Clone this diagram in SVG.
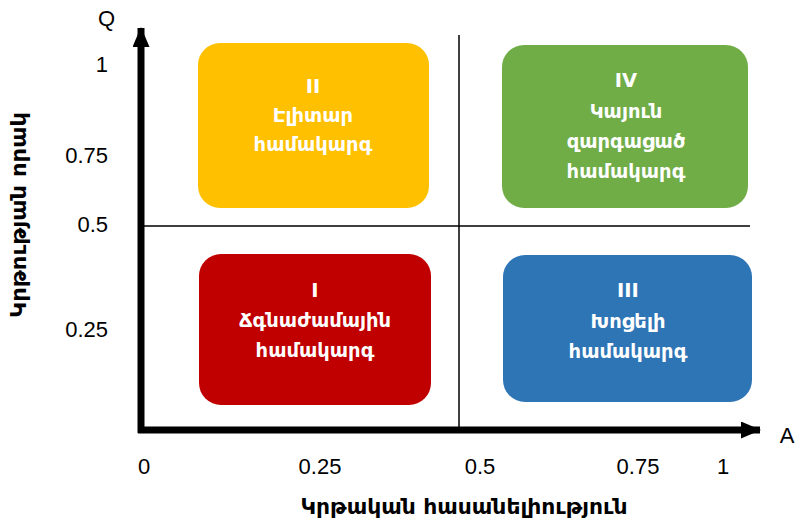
<svg xmlns="http://www.w3.org/2000/svg" width="799" height="521" viewBox="0 0 799 521">
<style>
.box text{font-family:"DejaVu Sans","Noto Sans",sans-serif;font-weight:bold;font-size:19.5px;fill:#fff;text-anchor:middle}
.tick{font-family:"Liberation Sans",Arial,sans-serif;font-size:22px;fill:#000}
.title{font-family:"DejaVu Sans","Noto Sans",sans-serif;font-weight:bold;font-size:22px;fill:#000;text-anchor:middle}
</style>
<defs>
<marker id="ah" viewBox="0 0 20 17" refX="19" refY="8.5" markerWidth="20" markerHeight="17" orient="auto" markerUnits="userSpaceOnUse">
<path d="M0,0 L20,8.5 L0,17 z" fill="#000"/>
</marker>
</defs>
<rect width="799" height="521" fill="#fff"/>
<g id="node-II" class="box">
<rect x="198" y="43" width="231" height="165" rx="22" fill="#FFC000"/>
<text x="313" y="93">II</text>
<text x="313" y="122">Էլիտար</text>
<text x="313" y="151">համակարգ</text>
</g>
<g id="node-IV" class="box">
<rect x="502" y="45" width="246" height="163" rx="22" fill="#70AD47"/>
<text x="626" y="87">IV</text>
<text x="626" y="118">Կայուն</text>
<text x="626" y="148">զարգացած</text>
<text x="626" y="178">համակարգ</text>
</g>
<g id="node-I" class="box">
<rect x="199" y="254" width="232" height="151" rx="22" fill="#C00000"/>
<text x="315" y="297">I</text>
<text x="315" y="327">Ճգնաժամային</text>
<text x="315" y="357">համակարգ</text>
</g>
<g id="node-III" class="box">
<rect x="503" y="255" width="249" height="147" rx="22" fill="#2E75B6"/>
<text x="628" y="297">III</text>
<text x="628" y="328">Խոցելի</text>
<text x="628" y="358">համակարգ</text>
</g>
<g id="connectors" fill="none" stroke="#000">
<line x1="459" y1="35" x2="459" y2="430" stroke-width="1.5"/>
<line x1="143" y1="226" x2="750" y2="226" stroke-width="1.5"/>
<line x1="141" y1="433" x2="141" y2="28" stroke-width="7" marker-end="url(#ah)"/>
<line x1="138" y1="430" x2="760" y2="430" stroke-width="7" marker-end="url(#ah)"/>
</g>
<g id="labels">
<text class="tick" x="115" y="26" text-anchor="end">Q</text>
<text class="tick" x="108" y="72" text-anchor="end">1</text>
<text class="tick" x="108" y="163" text-anchor="end">0.75</text>
<text class="tick" x="108" y="232" text-anchor="end">0.5</text>
<text class="tick" x="108" y="337" text-anchor="end">0.25</text>
<text class="tick" x="144" y="474" text-anchor="middle">0</text>
<text class="tick" x="320" y="474" text-anchor="middle">0.25</text>
<text class="tick" x="480" y="474" text-anchor="middle">0.5</text>
<text class="tick" x="638" y="474" text-anchor="middle">0.75</text>
<text class="tick" x="723" y="474" text-anchor="middle">1</text>
<text class="tick" x="787" y="443" text-anchor="middle">A</text>
<text class="title" x="464" y="514" textLength="327" lengthAdjust="spacingAndGlyphs">Կրթական հասանելիություն</text>
<text class="title" transform="translate(26,215) rotate(-90)" x="0" y="0" textLength="206" lengthAdjust="spacingAndGlyphs">Կրթության որակ</text>
</g>
</svg>
